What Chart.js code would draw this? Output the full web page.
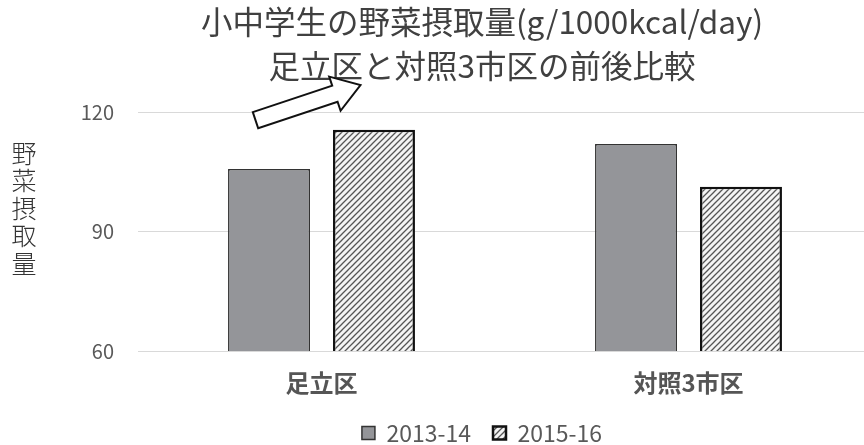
<!DOCTYPE html>
<html>
<head>
<meta charset="utf-8">
<script src="https://cdn.jsdelivr.net/npm/chart.js@4/dist/chart.umd.min.js"></script>
<style>
  html, body { margin: 0; padding: 0; background: #fff; overflow: hidden; }
  #wrap { width: 872px; height: 445px; position: relative; }
</style>
</head>
<body>
<div id="wrap"><canvas id="grafica"></canvas></div>
<script>
// data
var categories = ['足立区', '対照3市区'];
var series2013 = [105.7, 112.0];
var series2015 = [115.6, 101.3];
var seriesLabels = ['2013-14', '2015-16'];
var yTicks = [60, 90, 120];
var titleLines = ['小中学生の野菜摂取量(g/1000kcal/day)', '足立区と対照3市区の前後比較'];
var yTitleChars = ['野', '菜', '摂', '取', '量'];

var FONT = '"Noto Sans CJK JP", "Noto Sans", sans-serif';

// hatch pattern for the second series
function makeHatch() {
	var c = document.createElement('canvas');
	c.width = 6; c.height = 6;
	var g = c.getContext('2d');
	g.fillStyle = '#f4f4f4';
	g.fillRect(0, 0, 6, 6);
	g.strokeStyle = '#555';
	g.lineWidth = 1.3;
	g.beginPath();
	g.moveTo(-1, 7); g.lineTo(7, -1);
	g.moveTo(-1, 1); g.lineTo(1, -1);
	g.moveTo(5, 7); g.lineTo(7, 5);
	g.stroke();
	return g.createPattern(c, 'repeat');
}
var hatch = makeHatch();

// y title (stacked characters) and the block arrow
var extras = {
	id: 'extras',
	afterDraw: function(chart) {
		var ctx = chart.ctx;
		var x = chart.scales.x, y = chart.scales.y;
		ctx.save();
		ctx.fillStyle = '#333';
		ctx.font = '300 25px ' + FONT;
		ctx.textAlign = 'center';
		ctx.textBaseline = 'middle';
		for (var i = 0; i < yTitleChars.length; i++) {
			ctx.fillText(yTitleChars[i], 24, 153 + i * 27.5);
		}
		// arrow from the first group pointing up-right
		var cx = x.getPixelForValue(0);
		var tx = cx - 66, ty = y.getPixelForValue(118);
		var hx = cx + 39, hy = y.getPixelForValue(126.8);
		var dx = hx - tx, dy = hy - ty;
		var len = Math.sqrt(dx * dx + dy * dy);
		var ux = dx / len, uy = dy / len, nx = -uy, ny = ux;
		var sw = 8.5, hw = 18, hl = 27;
		var pts = [
			[0, -sw], [len - hl, -sw], [len - hl, -hw], [len, 0],
			[len - hl, hw], [len - hl, sw], [0, sw]
		];
		ctx.beginPath();
		pts.forEach(function(p, k) {
			var px = tx + ux * p[0] + nx * p[1];
			var py = ty + uy * p[0] + ny * p[1];
			if (k === 0) ctx.moveTo(px, py); else ctx.lineTo(px, py);
		});
		ctx.closePath();
		ctx.fillStyle = '#fff';
		ctx.fill();
		ctx.strokeStyle = '#111';
		ctx.lineWidth = 2;
		ctx.stroke();
		ctx.restore();
	}
};

var ctx = document.getElementById('grafica');
var myChart = new Chart(ctx, {
	type: 'bar',
	data: {
		labels: categories,
		datasets: [{
			label: seriesLabels[0],
			data: series2013,
			backgroundColor: '#949599',
			borderColor: '#333',
			borderWidth: 1.5,
			categoryPercentage: 0.572,
			barPercentage: 0.781
		}, {
			label: seriesLabels[1],
			data: series2015,
			backgroundColor: hatch,
			borderColor: '#111',
			borderWidth: 2.5,
			categoryPercentage: 0.572,
			barPercentage: 0.781
		}]
	},
	options: {
		responsive: true,
		maintainAspectRatio: false,
		animation: false,
		layout: { padding: { left: 92, right: 0, top: 0, bottom: -9.5 } },
		plugins: {
			title: {
				display: true,
				text: titleLines,
				color: '#404040',
				font: { family: FONT, size: 31.5, weight: 'normal', lineHeight: 1.4 },
				padding: { top: 0, bottom: 24 }
			},
			legend: {
				position: 'bottom',
				labels: {
					color: '#595959',
					font: { family: FONT, size: 23 },
					boxWidth: 13,
					boxHeight: 13,
					padding: 22
				}
			},
			tooltip: { enabled: false }
		},
		scales: {
			x: {
				afterFit: function(scale) { scale.height = 48.5; },
				grid: { display: false },
				border: { display: false },
				ticks: {
					color: '#555',
					font: { family: FONT, size: 24, weight: 'bold' },
					padding: 9.6
				}
			},
			y: {
				min: 60,
				max: 120,
				afterFit: function(scale) {
					scale.width = 46;
					// let the "120" label run left of the scale box
					scale._computeLabelArea = function() {};
				},
				afterBuildTicks: function(scale) {
					scale.ticks = yTicks.map(function(v) { return { value: v }; });
				},
				grid: { color: '#d9d9d9', lineWidth: 1, drawTicks: false },
				border: { display: false },
				ticks: {
					color: '#595959',
					font: { family: FONT, size: 20 },
					padding: 24
				}
			}
		}
	},
	plugins: [extras]
});
</script>
</body>
</html>
